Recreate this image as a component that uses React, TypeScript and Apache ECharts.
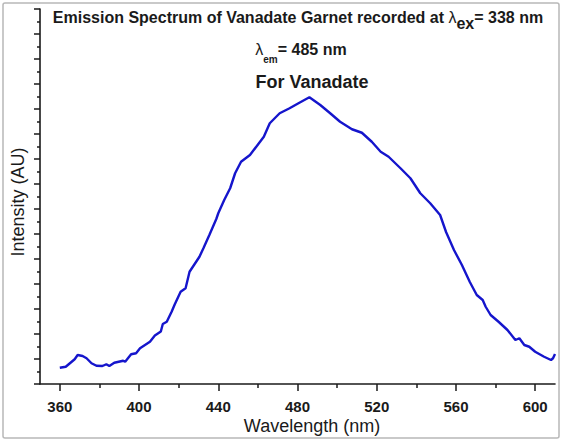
import React, { useEffect, useRef } from 'react';
import * as echarts from 'echarts';

// Emission spectrum (excitation at 338 nm), intensity in arbitrary units
const wavelengths = [
  360, 363, 366, 367.5, 369, 371.5, 373.5, 376, 378.5, 381.5, 383.5, 385, 387.5, 392, 393,
  396, 398.5, 400.5, 405.5, 408, 411, 412, 414, 416.5, 418, 421, 423.5, 425.5, 430.5, 432.5,
  435.5, 439, 440, 443, 446, 448.5, 451.5, 456, 463, 466, 471, 476, 480.5, 486, 491.5,
  496.5, 501.5, 507.5, 512.5, 517.5, 522, 526, 532, 537, 542, 547, 552, 555, 559,
  563, 567, 570.5, 573.5, 575, 577.5, 581.5, 586, 590, 592, 594.5, 597, 600, 604.5, 608,
  609, 610,
];
const intensities = [
  65, 69, 89, 99, 116, 112, 103, 83, 73, 72, 79, 72, 85, 93, 89,
  119, 123, 143, 169, 194, 210, 240, 249, 290, 318, 369, 383, 449, 509, 543,
  596, 660, 683, 736, 783, 843, 889, 916, 989, 1043, 1083, 1103, 1123, 1147, 1116,
  1083, 1049, 1019, 1005, 969, 929, 909, 863, 823, 763, 723, 676, 608, 536,
  476, 408, 356, 336, 309, 276, 249, 216, 176, 183, 156, 149, 129, 109, 96,
  103, 120,
];
const xLabelValues = [360, 400, 440, 480, 520, 560, 600];
const xMinorValues = [380, 420, 460, 500, 540, 580];

const FONT = '"Liberation Sans", Arial, Helvetica, sans-serif';
const INK = '#1a1a1a';

export default function App() {
  const ref = useRef<HTMLDivElement>(null);

  useEffect(() => {
    if (!ref.current) return;
    const chart = echarts.init(ref.current, null, { renderer: 'svg' });
    const axisLine = { lineStyle: { color: INK, width: 1.6 } };

    chart.setOption({
      animation: false,
      backgroundColor: '#ffffff',
      grid: { left: 40, right: 8, top: 9, bottom: 58 },
      xAxis: [
        {
          type: 'value',
          min: 350,
          max: 610,
          axisLine: { show: true, ...axisLine },
          axisTick: { show: true, customValues: xLabelValues, length: 7, lineStyle: { color: INK, width: 1.5 } },
          axisLabel: {
            customValues: xLabelValues,
            fontFamily: FONT,
            fontWeight: 'bold',
            fontSize: 15,
            color: INK,
            margin: 15,
          },
          splitLine: { show: false },
        },
        {
          type: 'value',
          min: 350,
          max: 610,
          position: 'bottom',
          axisLine: { show: false },
          axisTick: { show: true, customValues: xMinorValues, length: 4, lineStyle: { color: INK, width: 1.5 } },
          axisLabel: { show: false },
          splitLine: { show: false },
        },
      ],
      yAxis: {
        type: 'value',
        min: 0,
        max: 1500,
        interval: 100,
        axisLine: { show: true, ...axisLine },
        axisTick: { show: true, length: 6, lineStyle: { color: INK, width: 1.5 } },
        minorTick: { show: true, splitNumber: 2, length: 3, lineStyle: { color: INK, width: 1.5 } },
        axisLabel: { show: false },
        splitLine: { show: false },
      },
      series: [
        {
          type: 'line',
          xAxisIndex: 0,
          data: wavelengths.map((w, i) => [w, intensities[i]]),
          showSymbol: false,
          lineStyle: { color: '#1515cc', width: 2.4 },
        },
      ],
      graphic: [
        {
          type: 'rect',
          shape: { x: 3, y: 3, width: 556, height: 435, r: 2 },
          style: { fill: 'none', stroke: '#b8b8b8', lineWidth: 1.5 },
        },
        {
          type: 'text',
          x: 298,
          y: 9,
          style: {
            text: '{b|Emission Spectrum of Vanadate Garnet recorded at }{l|λ}{s|ex}{b|= 338 nm}',
            align: 'center',
            verticalAlign: 'top',
            rich: {
              b: { fontFamily: FONT, fontSize: 16, fontWeight: 'bold', lineHeight: 18, verticalAlign: 'top', fill: INK },
              l: { fontFamily: FONT, fontSize: 16, lineHeight: 18, verticalAlign: 'top', fill: INK },
              s: { fontFamily: FONT, fontSize: 16, fontWeight: 'bold', lineHeight: 18, padding: [6, 0, 0, 0], verticalAlign: 'top', fill: INK },
            },
          },
        },
        {
          type: 'text',
          x: 301,
          y: 41,
          style: {
            text: '{l|λ}{e|em}{b|= 485 nm}',
            align: 'center',
            verticalAlign: 'top',
            rich: {
              b: { fontFamily: FONT, fontSize: 16, fontWeight: 'bold', lineHeight: 18, verticalAlign: 'top', fill: INK },
              l: { fontFamily: FONT, fontSize: 16, lineHeight: 18, verticalAlign: 'top', fill: INK },
              e: { fontFamily: FONT, fontSize: 10, fontWeight: 'bold', lineHeight: 10, padding: [13, 0, 0, 0], verticalAlign: 'top', fill: INK },
            },
          },
        },
        {
          type: 'text',
          x: 312,
          y: 82,
          style: {
            text: 'For Vanadate',
            font: `bold 18px ${FONT}`,
            fill: INK,
            align: 'center',
            verticalAlign: 'middle',
          },
        },
        {
          type: 'text',
          x: 18,
          y: 202,
          rotation: Math.PI / 2,
          style: {
            text: 'Intensity (AU)',
            font: `18px ${FONT}`,
            fill: INK,
            align: 'center',
            verticalAlign: 'middle',
          },
        },
        {
          type: 'text',
          x: 312,
          y: 426,
          style: {
            text: 'Wavelength (nm)',
            font: `18px ${FONT}`,
            fill: INK,
            align: 'center',
            verticalAlign: 'middle',
          },
        },
      ],
    });

    return () => chart.dispose();
  }, []);

  return (
    <div
      ref={ref}
      style={{ position: 'fixed', left: 0, top: 0, width: 563, height: 442, background: '#fff' }}
    />
  );
}
